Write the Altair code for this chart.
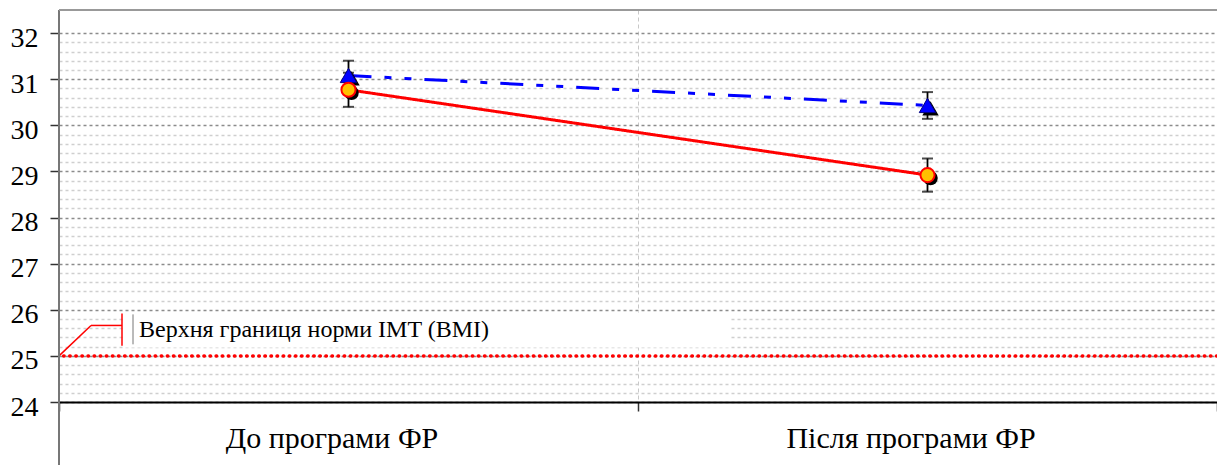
import altair as alt
import pandas as pd

# ---------------- data ----------------
categories = ["До програми ФР", "Після програми ФР"]
series_names = ["blue", "red"]
blue_mean = [31.08, 30.43]
blue_err = [0.32, 0.29]
red_mean = [30.77, 28.92]
red_err = [0.37, 0.36]
norm_value = [25]
norm_label = "Верхня границя норми IMT (BMI)"
y_tick_values = [round(24 + 0.2 * i, 1) for i in range(41)]

rows = []
for s, means, errs in [("blue", blue_mean, blue_err), ("red", red_mean, red_err)]:
    for c, m, e in zip(categories, means, errs):
        rows.append({"cat": c, "series": s, "mean": m, "lo": round(m - e, 3), "hi": round(m + e, 3)})
df = pd.DataFrame(rows)
norm_df = pd.DataFrame({"v": norm_value})
one = pd.DataFrame({"a": [0]})

W, H = 1158, 392
FONT = "Liberation Serif"

x_enc = alt.X(
    "cat:N",
    sort=categories,
    scale=alt.Scale(paddingInner=0, paddingOuter=0),
    axis=alt.Axis(
        title=None,
        labelAngle=0,
        labelFont=FONT,
        labelFontSize=30,
        labelColor="black",
        labelPadding=12,
        labelOffset=-17,
        labelLimit=800,
        tickBand="extent",
        tickSize=9,
        tickColor="#333333",
        tickWidth=1.5,
        domainColor="black",
        domainWidth=2,
        grid=True,
        gridColor="#c8c8c8",
        gridDash=[4, 3],
        gridWidth=1,
    ),
)

y_scale = alt.Scale(domain=[24, 32.5], nice=False, zero=False)
y_axis = alt.Axis(
    title=None,
    values=y_tick_values,
    tickCount=100,
    domain=False,
    labelOverlap=False,
    labelExpr="datum.value % 1 === 0 ? format(datum.value, 'd') : ''",
    labelFont=FONT,
    labelFontSize=28,
    labelColor="black",
    labelPadding=12,
    labelOffset=5,
    tickSize=9,
    tickColor="#333333",
    tickWidth=1.5,
    tickOpacity={"condition": {"test": "datum.value % 1 === 0", "value": 1}, "value": 0},
    grid=True,
    gridColor={"condition": {"test": "datum.value % 1 === 0", "value": "#8c8c8c"}, "value": "#cfcfcf"},
    gridDash=[3, 3],
    gridWidth=1.3,
)

base = alt.Chart(df)

# error bars (also carries the y scale / axis)
err = base.mark_rule(color="black", strokeWidth=1.8).encode(
    x=x_enc, y=alt.Y("lo:Q", scale=y_scale, axis=y_axis), y2="hi:Q", detail="series:N"
)

# annotation box and callout
box = alt.Chart(one).mark_rect(fill="white").encode(
    x=alt.value(66), x2=alt.value(672), y=alt.datum(25.18), y2=alt.datum(25.94)
)
diag = alt.Chart(one).mark_rule(color="red", strokeWidth=1.5).encode(
    x=alt.value(0), x2=alt.value(32), y=alt.datum(25), y2=alt.datum(25.66)
)
horiz = alt.Chart(one).mark_rule(color="red", strokeWidth=1.5).encode(
    x=alt.value(32), x2=alt.value(63), y=alt.datum(25.66)
)
vred = alt.Chart(one).mark_rule(color="red", strokeWidth=1.5).encode(
    x=alt.value(63), y=alt.datum(25.22), y2=alt.datum(25.92)
)
vgray = alt.Chart(one).mark_rule(color="#777777", strokeWidth=1).encode(
    x=alt.value(74), y=alt.datum(25.25), y2=alt.datum(25.9)
)
label = alt.Chart(one).mark_text(
    text=norm_label, align="left", baseline="alphabetic", font=FONT, fontSize=24, color="black"
).encode(x=alt.value(80), y=alt.datum(25.4))

norm = alt.Chart(norm_df).mark_rule(
    color="red", strokeWidth=3.5, strokeDash=[0.5, 5.6], strokeCap="round"
).encode(y=alt.Y("v:Q"))

caps = base.transform_fold(["lo", "hi"], as_=["k", "val"]).mark_tick(
    color="black", thickness=2, size=11, orient="horizontal"
).encode(x=x_enc, y=alt.Y("val:Q"))

lines = base.mark_line(strokeWidth=3).encode(
    x=x_enc,
    y=alt.Y("mean:Q"),
    color=alt.Color("series:N", scale=alt.Scale(domain=series_names, range=["#0000ff", "#ff0000"]), legend=None),
    strokeDash=alt.StrokeDash(
        "series:N",
        scale=alt.Scale(domain=series_names, range=[[23, 13, 7, 13, 7, 13], [1, 0]]),
        legend=None,
    ),
)

blue_shadow = base.transform_filter("datum.series === 'blue'").mark_point(
    shape="triangle-up", filled=True, color="black", size=270, xOffset=3, yOffset=3, opacity=1
).encode(x=x_enc, y="mean:Q")
red_shadow = base.transform_filter("datum.series === 'red'").mark_point(
    shape="circle", filled=True, color="black", size=210, xOffset=3, yOffset=3, opacity=1
).encode(x=x_enc, y="mean:Q")

blue_pts = base.transform_filter("datum.series === 'blue'").mark_point(
    shape="triangle-up", filled=True, fill="#0000ff", stroke="#000080", strokeWidth=1, size=270, opacity=1
).encode(x=x_enc, y="mean:Q")
red_pts = base.transform_filter("datum.series === 'red'").mark_point(
    shape="circle", filled=True, fill="#ffc000", stroke="#ff0000", strokeWidth=2, size=200, opacity=1
).encode(x=x_enc, y="mean:Q")

left_line = alt.Chart(one).mark_rule(color="#777777", strokeWidth=2).encode(
    x=alt.value(0), y=alt.value(0), y2=alt.value(455)
)
top_line = alt.Chart(one).mark_rule(color="#999999", strokeWidth=2).encode(
    x=alt.value(0), x2=alt.value(W), y=alt.value(0)
)

chart = alt.layer(
    err, box, diag, horiz, vred, vgray, label, norm, caps, lines,
    blue_shadow, red_shadow, blue_pts, red_pts, left_line, top_line,
).properties(
    width=W,
    height=H,
    padding={"left": 59, "top": 10, "right": 0, "bottom": 63},
    autosize=alt.AutoSizeParams(type="none"),
    background="white",
).configure_view(stroke=None)

chart.save("out.html", embed_options={"renderer": "svg", "actions": False})
